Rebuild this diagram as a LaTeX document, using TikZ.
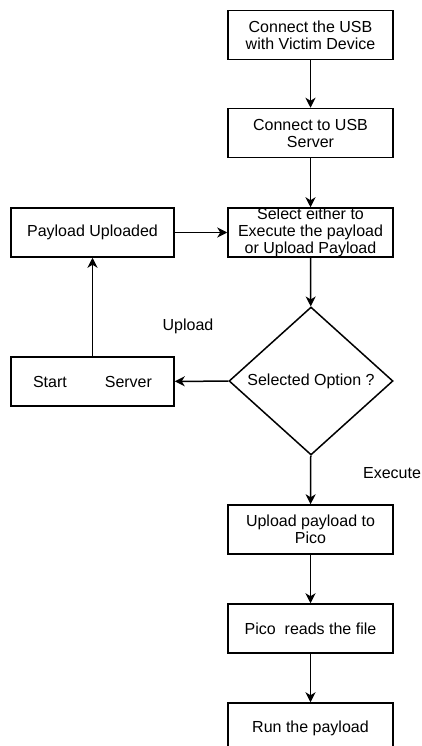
\documentclass[tikz,border=0pt]{standalone}
\usepackage{fontspec}
\setmainfont{Liberation Sans}
\usetikzlibrary{shapes.geometric,arrows.meta}

\begin{document}
\begin{tikzpicture}[
  x=1pt, y=-1pt,
  flowbox/.style={draw, line width=1.5pt, align=center, minimum width=165pt,
    minimum height=49pt, inner sep=0pt, font=\fontsize{16}{17}\selectfont},
  decision/.style={draw, diamond, line width=1.5pt, minimum width=164pt,
    minimum height=148pt, inner sep=0pt, font=\fontsize{16}{17}\selectfont},
  flowarrow/.style={-{Stealth[length=10pt,width=10pt,inset=3pt]}, line width=1.5pt},
  arrowlabel/.style={font=\fontsize{16}{17}\selectfont}
]
  \clip (0,0) rectangle (422,746);

  \node[flowbox] (usb) at (310.5,35) {Connect the USB\\with Victim Device};
  \node[flowbox] (server) at (310.5,133) {Connect to USB\\Server};
  \node[flowbox] (select) at (310.5,232.5) {Select either to\\Execute the payload\\or Upload Payload};
  \node[flowbox, minimum width=163pt] (uploaded) at (92.5,232.5) {Payload Uploaded};
  \node[flowbox, minimum width=163pt] (start) at (92.5,381.5) {Start\hspace{38pt}Server};
  \node[decision] (option) at (311,381) {Selected Option ?};
  \node[flowbox] (topico) at (310.5,529.5) {Upload payload to\\Pico};
  \node[flowbox] (reads) at (310.5,628.5) {Pico~ reads the file};
  \node[flowbox, minimum height=50pt] (run) at (310.5,728) {Run the payload};

  \node[arrowlabel] (uplabel) at (188,326) {Upload};
  \node[arrowlabel] (exlabel) at (392,473) {Execute};

  \draw[flowarrow] (usb) -- (server);
  \draw[flowarrow] (server) -- (select);
  \draw[flowarrow] (select) -- (option);
  \draw[flowarrow] (option) -- (start);
  \draw[flowarrow] (start) -- (uploaded);
  \draw[flowarrow] (uploaded) -- (select);
  \draw[flowarrow] (option) -- (topico);
  \draw[flowarrow] (topico) -- (reads);
  \draw[flowarrow] (reads) -- (run);
\end{tikzpicture}
\end{document}
